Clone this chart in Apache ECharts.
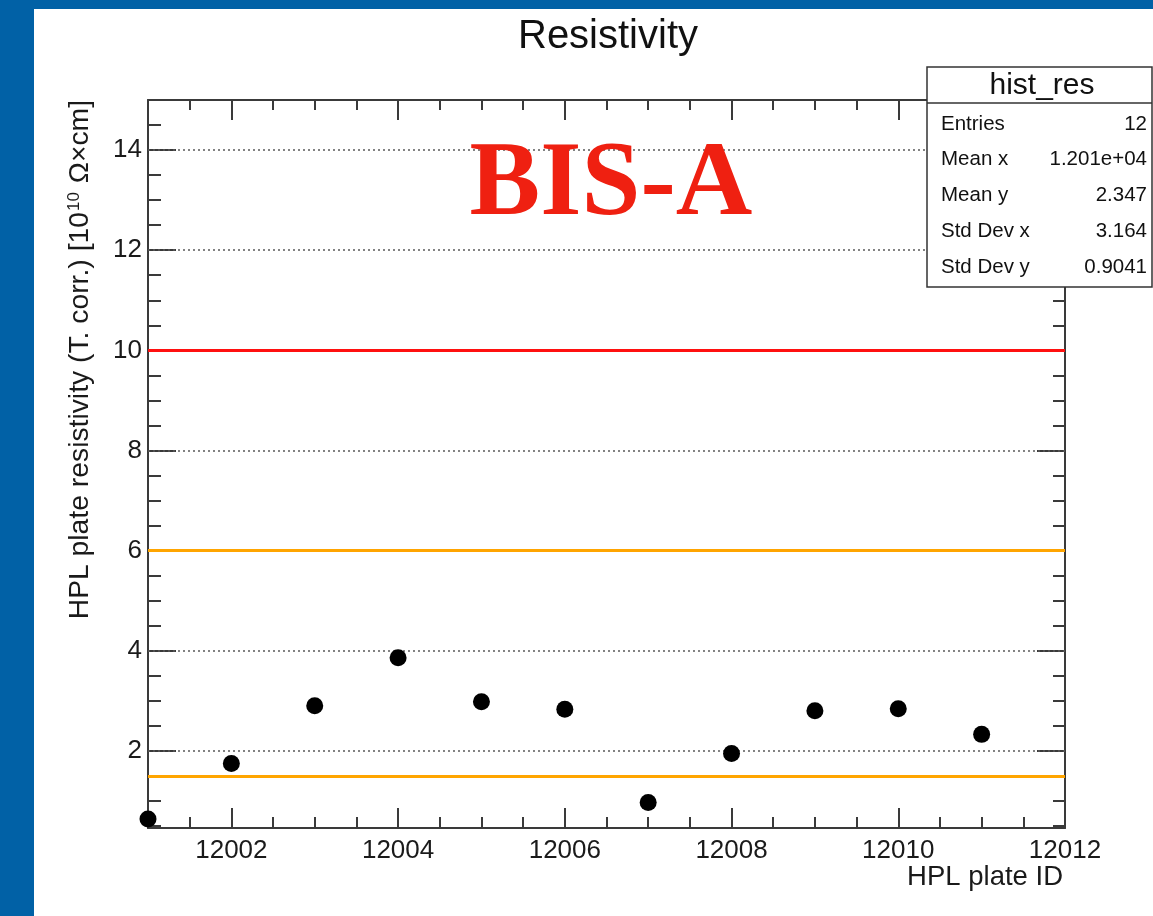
<!DOCTYPE html>
<html>
<head>
<meta charset="utf-8">
<title>Resistivity</title>
<script src="https://cdn.jsdelivr.net/npm/echarts@6/dist/echarts.min.js"></script>
<style>
  html, body { margin: 0; padding: 0; background: #0161a6; width: 1153px; height: 916px; overflow: hidden; }
  #chart { position: absolute; left: 34px; top: 9px; width: 1119px; height: 907px; background: #ffffff; }
</style>
</head>
<body>
<div id="chart"></div>
<script>
// HPL plate resistivity (temperature corrected) per plate, BIS-A
const plateIds = [12001, 12002, 12003, 12004, 12005, 12006, 12007, 12008, 12009, 12010, 12011];
const resistivity = [0.64, 1.75, 2.90, 3.86, 2.98, 2.83, 0.97, 1.95, 2.80, 2.84, 2.33];

// acceptance limits
const upperLimit = 10;
const warnLimits = [6, 1.5];

// axis ranges and tick labels
const xRange = [12001, 12012];
const yRange = [0.46, 15];
const xTickLabels = [12002, 12004, 12006, 12008, 12010, 12012];
const yTickLabels = [2, 4, 6, 8, 10, 12, 14];
const gridValues = [2, 4, 8, 12, 14];

// statistics box
const statsTitle = 'hist_res';
const statsNames = ['Entries', 'Mean x', 'Mean y', 'Std Dev x', 'Std Dev y'];
const statsValues = ['12', '1.201e+04', '2.347', '3.164', '0.9041'];

// minor tick positions every half unit
const minorX = [];
for (let v = xRange[0]; v <= xRange[1] + 1e-9; v += 0.5) minorX.push(v);
const minorY = [];
for (let v = 0.5; v <= yRange[1] + 1e-9; v += 0.5) minorY.push(v);

const FONT = "'Liberation Sans', Arial, Helvetica, sans-serif";
const AXIS_COLOR = '#3a3a3a';

function makeAxis(position, range, ticks, tickLen, withLine, labels) {
  return {
    type: 'value',
    position: position,
    min: range[0],
    max: range[1],
    axisLine: { show: withLine, onZero: false, lineStyle: { color: AXIS_COLOR, width: 2 } },
    axisTick: { show: true, inside: true, length: tickLen, customValues: ticks,
                lineStyle: { color: AXIS_COLOR, width: 2 } },
    axisLabel: labels ? {
      show: true, customValues: labels, fontSize: 26, color: '#1a1a1a', fontFamily: FONT,
      margin: (position === 'left' || position === 'right') ? 6 : 10,
      formatter: v => String(v)
    } : { show: false },
    splitLine: { show: false },
    minorTick: { show: false }
  };
}

const chart = echarts.init(document.getElementById('chart'), null, { renderer: 'canvas' });

const statsGraphics = [
  { type: 'rect', shape: { x: 893, y: 58, width: 225, height: 220 },
    style: { fill: '#ffffff', stroke: '#333333', lineWidth: 1.5 }, z: 20 },
  { type: 'line', shape: { x1: 893, y1: 94, x2: 1118, y2: 94 },
    style: { stroke: '#333333', lineWidth: 1.5 }, z: 21 },
  { type: 'text', x: 1008, y: 77, z: 21,
    style: { text: statsTitle, font: '30px ' + FONT, fill: '#111', textAlign: 'center', textVerticalAlign: 'middle' } }
];
statsNames.forEach((name, i) => {
  const y = 115 + i * 35.8;
  statsGraphics.push({ type: 'text', x: 907, y: y, z: 21,
    style: { text: name, font: '20.5px ' + FONT, fill: '#111', textAlign: 'left', textVerticalAlign: 'middle' } });
  statsGraphics.push({ type: 'text', x: 1113, y: y, z: 21,
    style: { text: statsValues[i], font: '20.5px ' + FONT, fill: '#111', textAlign: 'right', textVerticalAlign: 'middle' } });
});

const option = {
  animation: false,
  grid: { left: 114, right: 88, top: 91, bottom: 88 },
  xAxis: [
    makeAxis('bottom', xRange, xTickLabels, 20, true, xTickLabels),
    makeAxis('bottom', xRange, minorX, 11, false, null),
    makeAxis('top', xRange, xTickLabels, 20, true, null),
    makeAxis('top', xRange, minorX, 10, false, null)
  ],
  yAxis: [
    makeAxis('left', yRange, yTickLabels, 28, true, yTickLabels),
    makeAxis('left', yRange, minorY, 13, false, null),
    makeAxis('right', yRange, yTickLabels, 28, true, null),
    makeAxis('right', yRange, minorY, 12, false, null)
  ],
  graphic: [
    { type: 'text', x: 574, y: 28,
      style: { text: 'Resistivity', font: '40px ' + FONT, fill: '#111', textAlign: 'center', textVerticalAlign: 'middle' } },
    { type: 'text', x: 577, y: 178, z: 15,
      style: { text: 'BIS-A', font: "bold 106px 'Liberation Serif', 'Times New Roman', serif", fill: '#ef2011',
               textAlign: 'center', textVerticalAlign: 'middle' } },
    { type: 'text', x: 1029, y: 868,
      style: { text: 'HPL plate ID', font: '27.5px ' + FONT, fill: '#1a1a1a', textAlign: 'right', textVerticalAlign: 'middle' } },
    { type: 'text', x: 60, y: 91, rotation: Math.PI / 2,
      style: {
        text: 'HPL plate resistivity (T. corr.) [10{sup|10} Ω×cm]',
        font: '28.3px ' + FONT, fill: '#1a1a1a', textAlign: 'right', textVerticalAlign: 'bottom',
        rich: { sup: { fontSize: 17, fontFamily: FONT, fill: '#1a1a1a', verticalAlign: 'top', padding: [0, 1, 10, 1] } }
      } }
  ].concat(statsGraphics),
  series: [
    {
      type: 'line', data: [], xAxisIndex: 0, yAxisIndex: 0,
      markLine: {
        silent: true, symbol: 'none', animation: false, label: { show: false },
        data: gridValues.map(v => ({ yAxis: v, lineStyle: { color: '#5a5a5a', width: 1.5, type: [2, 3] } }))
          .concat(warnLimits.map(v => ({ yAxis: v, lineStyle: { color: '#ffa500', width: 3, type: 'solid' } })))
          .concat([{ yAxis: upperLimit, lineStyle: { color: '#ff1010', width: 3, type: 'solid' } }])
      }
    },
    {
      type: 'scatter', xAxisIndex: 0, yAxisIndex: 0, z: 10, clip: false,
      symbol: 'circle', symbolSize: 17,
      itemStyle: { color: '#000000', opacity: 1 },
      data: plateIds.map((id, i) => [id, resistivity[i]])
    }
  ]
};

chart.setOption(option);
</script>
</body>
</html>
